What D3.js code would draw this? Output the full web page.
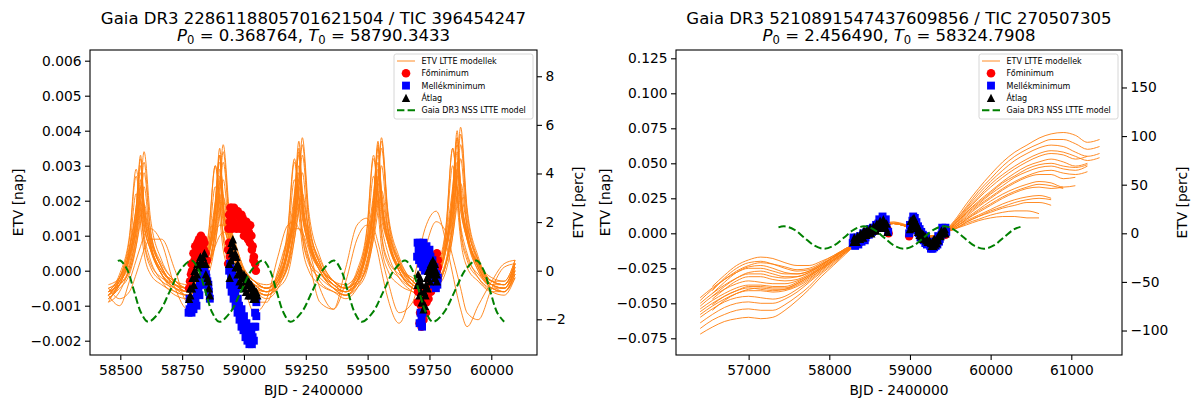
<!DOCTYPE html>
<html>
<head>
<meta charset="utf-8">
<script src="https://cdn.jsdelivr.net/npm/d3@7"></script>
<style>
  body { margin: 0; background: #fff; }
  svg { display: block; }
  text { font-family: "DejaVu Sans", sans-serif; fill: #000; }
</style>
</head>
<body>
<svg id="chart" width="1191" height="399"></svg>
<script>
// ---------------- Panel 1: Gaia DR3 2286118805701621504 ----------------
const leftTitle = "Gaia DR3 2286118805701621504 / TIC 396454247";
const leftP0 = "0.368764";
const leftT0 = "58790.3433";
const leftXTicks = [58500, 58750, 59000, 59250, 59500, 59750, 60000];
const leftYTicks = [-0.002, -0.001, 0, 0.001, 0.002, 0.003, 0.004, 0.005, 0.006];
const leftY2Ticks = [-2, 0, 2, 4, 6, 8];

// model sample times (BJD - 2400000) shared by all ETV model curves
const leftModelX = [58452, 58497, 58537, 58564, 58582, 58596, 58622, 58667, 58722,
  58772, 58817, 58857, 58884, 58902, 58916, 58942, 58987, 59042,
  59092, 59137, 59177, 59204, 59222, 59236, 59262, 59307, 59362,
  59412, 59457, 59497, 59524, 59542, 59556, 59582, 59627, 59682,
  59732, 59777, 59817, 59844, 59862, 59876, 59902, 59947, 60002,
  60052, 60096];
// ETV LTTE model curves, units of 1e-4 day
const leftModels = [
  [-6,-3,6,18,33,19,8,0,-4, -6,-3,6,19,35,20,9,1,-4, -6,-3,7,21,37,22,10,1,-4, -6,-3,7,20,36,21,10,1,-4, -6,-2,8,23,40,23,11,1,-4, -6,-2],
  [-8,-4,4,16,30,17,7,-1,-6, -7,-4,5,18,33,19,8,-1,-5, -7,-4,5,18,34,19,8,0,-5, -7,-4,6,19,35,20,9,0,-5, -7,-3,7,21,38,22,10,0,-5, -6,-1],
  [-7,-2,7,18,28,19,10,2,-3, -5,-1,8,20,31,22,11,2,-3, -5,-1,9,22,33,23,12,3,-3, -5,-1,9,22,33,23,12,3,-3, -5,-1,10,24,36,25,13,3,-3, -4,2],
  [-9,-3,4,14,26,14,6,-1,-5, -6,-3,4,16,29,16,7,0,-5, -6,-3,5,16,30,17,7,0,-5, -6,-3,5,17,31,18,8,0,-5, -6,-3,6,19,34,20,9,0,-4, -5,0],
  [-8,-4,4,15,24,16,7,-1,-5, -7,-4,5,17,27,18,8,0,-5, -7,-4,6,18,28,19,9,0,-5, -7,-3,6,18,29,20,9,0,-5, -7,-3,7,20,31,21,10,1,-5, -6,-1],
  [-6,-2,5,14,22,15,7,0,-3, -5,-2,6,16,25,17,9,1,-3, -5,-2,6,17,26,18,9,1,-3, -5,-2,7,17,27,19,9,1,-3, -5,-2,7,19,29,20,10,2,-3, -3,3],
  [-7,-3,3,12,20,13,6,-1,-4, -6,-3,4,14,22,15,7,0,-4, -6,-3,5,15,24,16,8,0,-4, -6,-3,5,16,25,17,8,0,-4, -6,-3,6,17,27,18,9,1,-4, -5,1],
  [-7,-4,1,11,22,31,12,1,-4, -6,-4,1,12,24,34,14,2,-4, -6,-4,2,13,25,36,15,2,-4, -6,-4,2,13,26,37,16,3,-4, -6,-4,2,14,28,39,17,3,-4, -5,0],
  [-6,-1,10,29,19,9,2,-2,-4, -5,-1,11,30,20,10,3,-2,-4, -5,-1,12,32,21,10,3,-1,-4, -5,0,12,33,22,11,3,-1,-4, -5,0,13,35,23,12,4,-1,-4, -4,2],
  [-9,-6,1,9,16,10,3,-3,-7, -8,-5,1,10,18,11,4,-3,-6, -8,-5,2,11,19,12,4,-3,-6, -8,-5,2,12,20,13,5,-2,-6, -8,-5,2,12,21,13,5,-2,-6, -7,-2],
  [-8,-5,-1,7,16,24,8,-1,-5, -7,-5,-1,8,18,26,10,0,-5, -7,-5,-1,9,19,28,10,0,-5, -7,-5,0,10,21,30,12,0,-5, -7,-5,0,10,22,32,12,1,-5, -6,-1],
  [-7,-2,9,27,17,8,1,-3,-5, -6,-2,10,30,19,9,2,-2,-5, -6,-2,11,31,20,10,2,-2,-5, -6,-1,11,32,21,10,2,-2,-5, -6,-1,12,35,23,11,3,-2,-5, -5,1],
  [-6,-4,0,7,14,19,9,1,-4, -5,-3,1,8,16,21,11,2,-3, -5,-3,1,9,17,22,11,2,-3, -5,-3,1,9,17,23,12,2,-3, -5,-3,2,10,19,25,13,3,-3, -4,2],
  [-5,-2,6,18,32,19,9,1,-4, -5,-2,6,19,33,19,9,1,-3, -5,-2,7,20,35,21,10,1,-3, -5,-2,8,21,37,22,11,2,-3, -5,-2,8,22,38,23,11,2,-3, -4,2],
  [-6,-4,0,9,20,28,11,1,-4, -6,-4,1,11,22,31,13,1,-4, -6,-4,1,12,23,33,14,2,-4, -6,-4,1,12,25,35,15,2,-4, -6,-4,2,13,26,36,15,2,-4, -5,1],
  [-7,-4,6,22,13,5,-1,-4,-6, -7,-3,7,24,15,6,0,-4,-6, -7,-3,8,26,16,7,0,-4,-6, -7,-3,8,27,17,7,0,-4,-6, -7,-3,10,30,19,9,1,-3,-6, -6,0],
  [-4,-2,4,11,18,12,6,0,-3, -4,-2,5,13,20,14,7,1,-3, -4,-2,5,14,21,15,7,1,-3, -4,-1,5,14,22,15,8,1,-2, -4,-1,6,16,24,17,9,2,-2, -3,3],
  [-5,-3,2,13,24,34,15,3,-3, -5,-3,2,13,26,36,16,3,-3, -5,-3,3,14,27,38,17,4,-3, -5,-3,3,14,27,38,17,4,-3, -5,-3,3,16,30,41,18,4,-3, -4,2],
  [-7,-10,-3,3,7,10,12,8,-5, -11,-5,5,11,13,13,11,0,-12, -8,4,13,14,12,10,3,-9,-11, 1,13,15,10,5,0,-8,-15,-4, 12,17,8,-1,-7,-11,-16,-10,-3, 2,3],
  [-5,-8,-6,-1,3,6,9,9,0, -9,-7,1,7,10,11,11,3,-9, -9,0,9,12,12,11,6,-5,-11, -3,9,13,12,8,4,-3,-12,-9, 6,14,11,4,-1,-5,-12,-14,-5, 1,2]
];
// Gaia DR3 NSS LTTE model, [BJD, ETV in 1e-4 day]
const leftGaia = [[58490,2.8],[58500,2.9],[58528,0.3],[58556,-5.9],[58584,-12],[58612,-14.6],[58656,-12],[58700,-5.9],[58744,0.3],
  [58788,2.9],[58816,0.3],[58844,-5.9],[58872,-12],[58900,-14.6],[58944,-12],[58988,-5.9],[59032,0.3],
  [59076,2.9],[59104,0.3],[59132,-5.9],[59160,-12],[59188,-14.6],[59232,-12],[59276,-5.9],[59320,0.3],
  [59364,2.9],[59392,0.3],[59420,-5.9],[59448,-12],[59476,-14.6],[59520,-12],[59564,-5.9],[59608,0.3],
  [59652,2.9],[59680,0.3],[59708,-5.9],[59736,-12],[59764,-14.6],[59808,-12],[59852,-5.9],[59896,0.3],
  [59940,2.9],[59968,0.3],[59996,-5.9],[60024,-12],[60052,-14.6]];
// measured minima, [BJD, ETV in 1e-4 day]
const leftPrimary = [[58778,-5],[58782,-3],[58786,-1],[58790,0],[58795,2],[58800,3],[58805,4],[58810,5],[58815,6],[58820,7],[58825,8],[58830,9],[58835,9],[58840,8],[58845,5],[58850,3],
  [58782,-5],[58788,2],[58796,5],[58803,7],[58812,8],[58818,9],[58826,10],[58832,7],[58838,6],
  [58938,12],[58940,8],[58943,4],[58940,16],[58945,18],[58950,18],[58955,17],[58960,18],[58965,17],[58970,16],[58975,17],[58980,16],[58985,15],[58990,16],[58995,15],[59000,14],[59005,13],[59010,14],[59015,12],[59020,11],[59025,13],[59030,10],[59035,7],[59040,4],[59045,2],[59048,0],
  [58942,14],[58948,15],[58952,12],[58958,14],[58964,13],[58970,12],[58978,13],[58985,12],[58992,12],[59000,10],[59008,10],[59016,9],[59024,8],[59032,6],[59038,3],[58936,6],[58936,2],
  [59704,-6],[59708,-9],[59712,-12],[59716,-10],[59720,-13],[59724,-11],[59728,-8],[59732,-6],[59738,-9],[59744,-5],[59750,-3],[59756,-1],[59762,1],[59768,3],[59774,2],[59780,5],[59784,3],[59782,-2],[59780,0],
  [59702,-9],[59710,-15],[59718,-16],[59726,-14],[59736,-12],[59746,-8],[59756,-6],[59766,-3],[59776,-1],[59784,1]];
const leftSecondary = [[58776,-12],[58780,-11],[58786,-10],[58792,-10],[58798,-9],[58804,-8],[58810,-6],[58816,-5],[58822,-4],[58828,-3],[58834,-1],[58840,0],[58846,-1],[58852,-3],[58858,-6],[58862,-8],
  [58780,-8],[58788,-12],[58796,-11],[58808,-10],[58820,-7],[58836,-4],[58848,-2],[58856,-4],
  [58940,0],[58944,2],[58948,-2],[58952,0],[58956,-4],[58960,-3],[58965,-6],[58970,-5],[58975,-8],[58980,-10],[58985,-12],[58990,-11],[58995,-14],[59000,-13],[59005,-16],[59010,-15],[59015,-18],[59020,-17],[59025,-19],[59030,-18],[59035,-19],[59040,-16],[59045,-12],[59050,-9],
  [58944,-4],[58950,-6],[58958,-8],[58966,-10],[58974,-12],[58982,-14],[58990,-16],[58998,-17],[59006,-19],[59014,-20],[59022,-21],[59032,-21],[59040,-20],[59046,-16],[59050,-13],
  [59702,8],[59706,6],[59710,8],[59714,5],[59718,7],[59722,4],[59726,8],[59730,6],[59734,3],[59738,7],[59742,5],[59746,2],[59750,6],[59754,4],[59758,0],[59762,3],[59766,-2],[59770,1],[59774,-3],[59778,-1],[59782,-4],[59714,-12],[59718,-14],[59722,-12],
  [59700,4],[59708,3],[59716,2],[59724,1],[59732,0],[59740,2],[59750,1],[59760,-1],[59768,-4],[59776,-5],[59784,-2],[59710,-15],[59720,-16]];
const leftMean = [[58778,-8],[58783,-7],[58790,-5],[58797,-4],[58804,-2],[58810,-1],[58816,1],[58822,2],[58828,3],[58834,4],[58840,5],[58846,2],[58852,-2],[58858,-5],[58862,-7],
  [58782,-5],[58792,-2],[58800,0],[58812,2],[58824,4],[58836,2],[58846,-1],[58856,-3],
  [58940,2],[58945,6],[58950,8],[58955,9],[58960,7],[58965,5],[58970,4],[58975,2],[58980,1],[58985,0],[58990,-1],[58995,-2],[59000,-1],[59005,-3],[59010,-2],[59015,-4],[59020,-3],[59025,-5],[59030,-4],[59035,-6],[59040,-5],[59045,-7],[59050,-6],
  [58942,-2],[58948,3],[58952,5],[58958,4],[58966,1],[58974,-1],[58982,-3],[58990,-4],[58998,-5],[59008,-6],[59018,-7],[59028,-7],[59038,-8],[59048,-8],[59054,-7],
  [59704,-1],[59708,-3],[59712,-2],[59716,-6],[59720,-4],[59724,-9],[59728,-6],[59732,-10],[59736,-4],[59740,-2],[59744,0],[59748,-1],[59752,1],[59756,2],[59760,0],[59764,3],[59768,1],[59772,2],[59776,0],[59780,-1],
  [59702,-4],[59710,-7],[59718,-9],[59726,-11],[59734,-7],[59742,-5],[59752,-3],[59762,-1],[59772,-2],[59780,-3]];

// ---------------- Panel 2: Gaia DR3 5210891547437609856 ----------------
const rightTitle = "Gaia DR3 5210891547437609856 / TIC 270507305";
const rightP0 = "2.456490";
const rightT0 = "58324.7908";
const rightXTicks = [57000, 58000, 59000, 60000, 61000];
const rightYTicks = [-0.075, -0.05, -0.025, 0, 0.025, 0.05, 0.075, 0.1, 0.125];
const rightY2Ticks = [-100, -50, 0, 50, 100, 150];

const rightModelX = [56400,56550,56700,56850,57000,57150,57300,57450,57600,57750,57900,58050,58200,
  58350,58500,58650,58800,58950,59100,59250,59400,
  59550,59700,59850,60000,60150,60300,60450,60600,60750,60900,61050,61200,61350];
// ETV LTTE model curves, units of 1e-3 day (null = outside the model span)
const rightModels = [
  [-72,-67,-63,-61,-60,-61,-60,-55,-48,-40,-31,-23,-15, -7,0,6,7,5,1,-3,0, 9,21,32,42,51,58,63,68,71,72,70,65,67],
  [-68,-62,-58,-55,-54,-55,-55,-51,-45,-38,-29,-22,-14, -7,0,6,7,5,1,-3,0, 8,19,30,39,48,55,60,64,67,67,64,60,62],
  [-64,-58,-53,-50,-49,-50,-50,-47,-42,-35,-28,-21,-14, -6,1,7,7,5,2,-2,0, 8,18,28,37,45,52,57,61,63,62,58,55,57],
  [-60,-54,-49,-46,-45,-46,-47,-45,-40,-34,-27,-20,-14, -7,0,6,8,6,1,-3,-1, 7,17,26,35,42,48,53,57,59,58,55,52,54],
  [-58,-52,-47,-43,-41,-41,-42,-41,-38,-33,-26,-20,-13, -6,1,7,7,5,2,-2,0, 7,16,25,33,40,46,51,55,57,56,53,55,null],
  [null,-55,-48,-43,-40,-39,-40,-40,-37,-32,-26,-19,-13, -7,0,6,7,5,1,-3,0, 6,15,23,30,37,43,48,51,53,51,48,50,null],
  [null,-51,-45,-41,-39,-40,-41,-40,-36,-31,-25,-19,-13, -6,1,7,7,5,2,-2,0, 6,15,22,29,36,41,46,49,50,48,47,49,null],
  [-54,-48,-43,-39,-37,-37,-38,-38,-35,-30,-25,-19,-13, -6,1,7,8,5,2,-2,0, 6,14,21,28,34,40,44,47,48,46,45,48,null],
  [-56,-50,-45,-41,-38,-38,-39,-39,-36,-31,-25,-19,-13, -7,0,6,7,5,1,-3,0, 5,13,20,26,32,37,41,44,45,43,42,44,null],
  [-52,-45,-40,-36,-34,-35,-36,-36,-34,-30,-24,-18,-12, -7,0,6,7,6,1,-3,0, 5,12,19,25,31,36,40,42,42,39,40,null,null],
  [null,-47,-40,-34,-31,-31,-33,-34,-33,-29,-24,-18,-12, -6,1,7,7,5,2,-2,0, 5,11,17,23,28,32,35,37,36,33,34,null,null],
  [null,-45,-38,-32,-28,-27,-29,-31,-31,-28,-23,-17,-12, -6,1,7,7,5,2,-2,0, 4,10,16,21,26,30,33,35,34,32,null,null,null],
  [-50,-43,-37,-32,-29,-29,-31,-32,-31,-28,-23,-17,-12, -7,0,6,7,5,1,-3,0, 4,10,15,20,25,29,32,33,32,33,null,null,null],
  [null,-43,-35,-28,-24,-23,-25,-28,-29,-27,-23,-17,-12, -6,1,7,7,5,2,-2,0, 4,9,13,17,21,24,26,27,25,null,null,null,null],
  [-46,-39,-33,-28,-25,-25,-27,-29,-29,-27,-22,-17,-11, -7,0,6,7,5,1,-3,0, 3,8,12,16,19,22,24,25,24,null,null,null,null],
  [null,-41,-32,-25,-21,-20,-22,-25,-27,-26,-22,-17,-11, -7,0,6,7,5,1,-3,0, 3,8,12,15,18,20,22,22,20,null,null,null,null],
  [-48,-40,-33,-27,-23,-21,-22,-24,-26,-25,-21,-16,-11, -6,1,7,7,5,2,-2,0, 3,7,10,13,15,16,16,14,null,null,null,null,null],
  [null,-38,-30,-23,-19,-17,-18,-21,-23,-23,-20,-16,-11, -7,0,6,7,5,1,-3,0, 3,6,9,11,12,12,11,11,null,null,null,null,null]
];
const rightGaia = [[57370,4.2],[57440,5],[57564,2.7],[57688,-3],[57812,-8.7],[57935,-11],[58059,-8.7],[58183,-3],[58306,2.7],
  [58430,5],[58554,2.7],[58678,-3],[58801,-8.7],[58925,-11],[59049,-8.7],[59172,-3],[59296,2.7],
  [59420,5],[59544,2.7],[59668,-3],[59791,-8.7],[59915,-11],[60039,-8.7],[60162,-3],[60286,2.7],[60370,4.6]];
const rightPrimary = [[58300,-5],[58420,-2],[58600,7],[58680,8],[58720,3],[58735,0],[58990,-2],[59050,7],[59240,-8],[59300,-7],[59360,-4],[59440,-1]];
const rightSecondary = [[58290,-7],[58310,-6],[58330,-7],[58350,-5],[58370,-6],[58390,-3],[58410,-4],[58430,-2],[58450,-3],[58470,0],[58490,-1],[58510,2],[58530,1],[58550,3],[58570,4],[58590,6],[58610,7],[58630,8],[58650,9],[58670,8],[58690,7],[58710,4],[58730,1],
  [58300,-3],[58340,-3],[58380,-2],[58420,0],[58460,1],[58500,3],[58540,4],[58580,6],[58620,10],[58660,12],[58700,10],[58320,-9],[58360,-8],[58400,-6],[58440,-5],
  [58990,0],[59010,5],[59030,9],[59050,9],[59070,6],[59090,2],[59110,0],[59130,-3],[59150,-4],[59170,-5],[59190,-7],[59210,-8],[59230,-7],[59250,-9],[59270,-8],[59290,-6],[59310,-7],[59330,-5],[59350,-2],[59370,-4],[59390,-1],[59410,2],[59430,3],[59450,1],
  [59000,6],[59040,12],[59060,11],[59080,8],[59100,5],[59120,3],[59140,1],[59160,-1],[59180,-2],[59200,-3],[59260,-11],[59280,-11],[59300,-10],[59320,-9],[59340,-8],[59360,-6],[59400,4],[59440,4]];
const rightMean = [[58300,-6],[58320,-5],[58340,-6],[58360,-4],[58380,-4],[58400,-2],[58420,-3],[58440,-1],[58460,-1],[58480,1],[58500,1],[58520,0],[58540,2],[58560,3],[58580,2],[58600,5],[58620,6],[58640,4],[58660,8],[58680,6],[58700,4],[58720,1],
  [58310,-3],[58350,-2],[58390,0],[58430,2],[58470,3],[58510,4],[58550,5],[58590,7],[58630,9],[58670,10],[58710,7],
  [59000,3],[59020,6],[59040,8],[59060,5],[59080,4],[59100,1],[59120,-1],[59140,-2],[59160,-4],[59180,-3],[59200,-5],[59220,-6],[59240,-5],[59260,-7],[59280,-6],[59300,-4],[59320,-5],[59340,-3],[59360,-1],[59380,-2],[59400,0],[59420,1],[59440,0],
  [59010,9],[59030,10],[59050,11],[59070,8],[59090,6],[59110,3],[59130,1],[59150,0],[59170,-1],[59190,-2],[59270,-9],[59290,-9],[59310,-8],[59330,-7],[59350,-5],[59390,2],[59430,3]];

const legendLabels = ["ETV LTTE modellek", "Főminimum", "Mellékminimum", "Átlag", "Gaia DR3 NSS LTTE model"];

// ---------------- drawing ----------------
const COLORS = { model: "#ff7f0e", primary: "#ff0000", secondary: "#0000ff", mean: "#000000", gaia: "#008000" };
const TICK_FONT = 13.78, LABEL_FONT = 13.78, TITLE_FONT = 16.54, LEGEND_FONT = 8;

const svg = d3.select("#chart");
svg.append("rect").attr("width", 1191).attr("height", 399).attr("fill", "#fff");

const triangleUp = {
  draw(ctx, size) {
    const r = Math.sqrt(size) / 2;
    ctx.moveTo(0, -r); ctx.lineTo(r, r); ctx.lineTo(-r, r); ctx.closePath();
  }
};
const markerShapes = {
  primary: d3.symbol(d3.symbolCircle, 58),
  secondary: d3.symbol(d3.symbolSquare, 62),
  mean: d3.symbol(triangleUp, 70)
};

const panels = [
  { id: "a", title: leftTitle, p0: leftP0, t0: leftT0, left: 90, right: 537, top: 50, bottom: 355,
    xDomain: [58377.5, 60184.8], yDomain: [-0.0024086, 0.0063057], unit: 1e-4,
    xTicks: leftXTicks, yTicks: leftYTicks, y2Ticks: leftY2Ticks,
    modelX: leftModelX, models: leftModels, gaia: leftGaia,
    primary: leftPrimary, secondary: leftSecondary, mean: leftMean,
    yLabelX: 23, y2LabelX: 583 },
  { id: "b", title: rightTitle, p0: rightP0, t0: rightT0, left: 676, right: 1122, top: 50, bottom: 355,
    xDomain: [56099.6, 61628.5], yDomain: [-0.08693, 0.13093], unit: 1e-3,
    xTicks: rightXTicks, yTicks: rightYTicks, y2Ticks: rightY2Ticks,
    modelX: rightModelX, models: rightModels, gaia: rightGaia,
    primary: rightPrimary, secondary: rightSecondary, mean: rightMean,
    yLabelX: 610, y2LabelX: 1187 }
];

function styleAxis(g) {
  g.select(".domain").remove();
  g.attr("font-family", "DejaVu Sans").attr("font-size", TICK_FONT);
  g.selectAll(".tick line").attr("stroke", "#000").attr("stroke-width", 1.1);
  g.selectAll(".tick text").attr("fill", "#000");
}

panels.forEach(p => {
  const x = d3.scaleLinear().domain(p.xDomain).range([p.left, p.right]);
  const y = d3.scaleLinear().domain(p.yDomain).range([p.bottom, p.top]);
  const y2 = d3.scaleLinear().domain(p.yDomain.map(v => v * 1440)).range([p.bottom, p.top]);
  const g = svg.append("g");

  svg.append("clipPath").attr("id", "clip-" + p.id)
    .append("rect").attr("x", p.left).attr("y", p.top)
    .attr("width", p.right - p.left).attr("height", p.bottom - p.top);
  const plot = g.append("g").attr("clip-path", `url(#clip-${p.id})`);

  // ETV LTTE model family
  const modelLine = d3.line()
    .defined(d => d[1] !== null)
    .x(d => x(d[0])).y(d => y(d[1] * p.unit))
    .curve(d3.curveMonotoneX);
  plot.append("g").selectAll("path")
    .data(p.models.map(vals => p.modelX.map((t, i) => [t, vals[i]])))
    .join("path")
    .attr("d", modelLine)
    .attr("fill", "none")
    .attr("stroke", COLORS.model)
    .attr("stroke-width", 0.9)
    .attr("stroke-linejoin", "round");

  // measured minima and their mean
  [["primary", p.primary], ["secondary", p.secondary], ["mean", p.mean]].forEach(([key, pts]) => {
    plot.append("g").selectAll("path")
      .data(pts)
      .join("path")
      .attr("transform", d => `translate(${x(d[0])},${y(d[1] * p.unit)})`)
      .attr("d", markerShapes[key])
      .attr("fill", COLORS[key]);
  });

  // Gaia DR3 NSS orbit solution
  const gaiaLine = d3.line()
    .x(d => x(d[0])).y(d => y(d[1] * p.unit))
    .curve(d3.curveCatmullRom.alpha(0.5));
  plot.append("path").datum(p.gaia)
    .attr("d", gaiaLine)
    .attr("fill", "none")
    .attr("stroke", COLORS.gaia)
    .attr("stroke-width", 2)
    .attr("stroke-dasharray", "7.4,3.2");

  // axes
  g.append("g").attr("transform", `translate(0,${p.bottom})`)
    .call(d3.axisBottom(x).tickValues(p.xTicks).tickFormat(d3.format("d")).tickSize(5).tickPadding(5.5))
    .call(styleAxis);
  g.append("g").attr("transform", `translate(${p.left},0)`)
    .call(d3.axisLeft(y).tickValues(p.yTicks).tickFormat(d3.format(".3f")).tickSize(5).tickPadding(3.5))
    .call(styleAxis);
  g.append("g").attr("transform", `translate(${p.right},0)`)
    .call(d3.axisRight(y2).tickValues(p.y2Ticks).tickFormat(d3.format("d")).tickSize(5).tickPadding(3.5))
    .call(styleAxis);

  // frame
  g.append("rect")
    .attr("x", p.left).attr("y", p.top)
    .attr("width", p.right - p.left).attr("height", p.bottom - p.top)
    .attr("fill", "none").attr("stroke", "#000").attr("stroke-width", 1.1);

  const cx = (p.left + p.right) / 2, cy = (p.top + p.bottom) / 2;

  // axis labels
  g.append("text").attr("x", cx).attr("y", 394.5).attr("text-anchor", "middle")
    .attr("font-size", LABEL_FONT).text("BJD - 2400000");
  g.append("text").attr("transform", `translate(${p.yLabelX},${cy}) rotate(-90)`)
    .attr("text-anchor", "middle").attr("font-size", LABEL_FONT).text("ETV [nap]");
  g.append("text").attr("transform", `translate(${p.y2LabelX},${cy}) rotate(-90)`)
    .attr("text-anchor", "middle").attr("font-size", LABEL_FONT).text("ETV [perc]");

  // title
  g.append("text").attr("x", cx).attr("y", 24).attr("text-anchor", "middle")
    .attr("font-size", TITLE_FONT).text(p.title);
  const t2 = g.append("text").attr("x", cx).attr("y", 41).attr("text-anchor", "middle")
    .attr("font-size", TITLE_FONT);
  t2.append("tspan").attr("font-style", "italic").text("P");
  t2.append("tspan").attr("font-size", 11.6).attr("dy", 2.6).text("0");
  t2.append("tspan").attr("dy", -2.6).text(" = " + p.p0 + ", ");
  t2.append("tspan").attr("font-style", "italic").text("T");
  t2.append("tspan").attr("font-size", 11.6).attr("dy", 2.6).text("0");
  t2.append("tspan").attr("dy", -2.6).text(" = " + p.t0);

  // legend
  const bw = 139, bh = 65;
  const bx = p.right - 4 - bw, by = p.top + 4;
  const lg = g.append("g");
  lg.append("rect").attr("x", bx).attr("y", by).attr("width", bw).attr("height", bh)
    .attr("rx", 2.2).attr("fill", "#fff").attr("fill-opacity", 0.8)
    .attr("stroke", "#cccccc").attr("stroke-width", 0.8);
  const rowY = i => by + 7 + i * 12.3;
  const hx0 = bx + 3, hx1 = bx + 21, hxm = bx + 12;
  lg.append("line").attr("x1", hx0).attr("x2", hx1).attr("y1", rowY(0)).attr("y2", rowY(0))
    .attr("stroke", COLORS.model).attr("stroke-width", 0.9);
  ["primary", "secondary", "mean"].forEach((key, k) => {
    lg.append("path").attr("transform", `translate(${hxm},${rowY(k + 1)})`)
      .attr("d", markerShapes[key]).attr("fill", COLORS[key]);
  });
  lg.append("line").attr("x1", hx0).attr("x2", hx1).attr("y1", rowY(4)).attr("y2", rowY(4))
    .attr("stroke", COLORS.gaia).attr("stroke-width", 2).attr("stroke-dasharray", "7.4,3.2");
  legendLabels.forEach((lab, i) => {
    lg.append("text").attr("x", bx + 27.5).attr("y", rowY(i) + 2.9)
      .attr("font-size", LEGEND_FONT).text(lab);
  });
});
</script>
</body>
</html>
